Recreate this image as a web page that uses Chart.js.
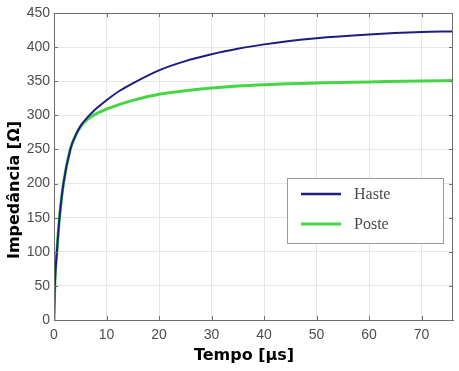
<!DOCTYPE html>
<html>
<head>
<meta charset="utf-8">
<script src="https://cdn.jsdelivr.net/npm/chart.js@4/dist/chart.umd.min.js"></script>
<style>
  html, body { margin: 0; padding: 0; background: #fff; }
  #wrap { width: 459px; height: 371px; }
</style>
</head>
<body>
<div id="wrap"><canvas id="chart" width="459" height="371"></canvas></div>
<script>
// values
const timeUs = [0, 0.15, 0.55, 1.05, 1.8, 3.1, 4.2, 5.2, 6.5, 7.5, 10, 12.5, 15, 20, 25, 30, 35, 40, 50, 60, 70, 76];
const hasteImp = [0, 50, 100, 150, 200, 250, 272, 286, 298, 306, 322, 336, 347, 366, 379.5, 389.5, 397.5, 404, 413, 418.5, 422, 423];
const posteImp = [0, 50, 100, 150, 200, 250, 272, 285, 295, 300, 309, 316, 322, 331, 336, 340, 343, 345, 347.5, 349, 350.5, 351];
const seriesNames = ["Haste", "Poste"];
const xTickValues = [0, 10, 20, 30, 40, 50, 60, 70];
const xTitle = "Tempo [\u03bcs]";
const yTitle = "Impedância [\u03a9]";

const toPoints = (ys) => timeUs.map((t, i) => ({ x: t, y: ys[i] }));

const frameColor = "#6f6f6f";

// box round the plot, inside ticks, axis titles and the legend box
const matlabLook = {
  id: "matlabLook",
  afterDraw(chart) {
    const ctx = chart.ctx;
    const a = chart.chartArea;
    const xs = chart.scales.x, ys = chart.scales.y;
    ctx.save();
    ctx.strokeStyle = frameColor;
    ctx.lineWidth = 1;
    ctx.strokeRect(Math.round(a.left) + 0.5, Math.round(a.top) + 0.5,
      Math.round(a.right - a.left) - 1, Math.round(a.bottom - a.top));
    ctx.beginPath();
    xs.ticks.forEach((t) => {
      const px = Math.round(xs.getPixelForValue(t.value)) + 0.5;
      ctx.moveTo(px, a.bottom); ctx.lineTo(px, a.bottom - 4);
      ctx.moveTo(px, a.top); ctx.lineTo(px, a.top + 4);
    });
    ys.ticks.forEach((t) => {
      const py = Math.round(ys.getPixelForValue(t.value)) + 0.5;
      ctx.moveTo(a.left, py); ctx.lineTo(a.left + 4, py);
      ctx.moveTo(a.right, py); ctx.lineTo(a.right - 4, py);
    });
    ctx.stroke();

    // axis titles
    ctx.fillStyle = "#000";
    ctx.font = "bold 16px 'DejaVu Sans'";
    ctx.textAlign = "center";
    ctx.textBaseline = "middle";
    ctx.fillText(xTitle, 244, 356);
    ctx.translate(15, 190);
    ctx.rotate(-Math.PI / 2);
    ctx.fillText(yTitle, 0, 0);
    ctx.restore();

    // legend
    ctx.save();
    ctx.fillStyle = "#fff";
    ctx.fillRect(287, 178, 156, 65);
    ctx.strokeStyle = "#9a9a9a";
    ctx.lineWidth = 1;
    ctx.strokeRect(287.5, 178.5, 156, 65);
    chart.data.datasets.forEach((ds, i) => {
      const y = 194 + i * 30;
      ctx.strokeStyle = ds.borderColor;
      ctx.lineWidth = i === 0 ? 2.5 : 3;
      ctx.beginPath();
      ctx.moveTo(301, y); ctx.lineTo(341, y);
      ctx.stroke();
      ctx.fillStyle = "#4a4a4a";
      ctx.font = "16px 'Liberation Serif'";
      ctx.textAlign = "left";
      ctx.textBaseline = "middle";
      ctx.fillText(ds.label, 354, y + 1);
    });
    ctx.restore();
  }
};

new Chart(document.getElementById("chart"), {
  type: "scatter",
  data: {
    datasets: [
      {
        label: seriesNames[0],
        data: toPoints(hasteImp),
        showLine: true,
        borderColor: "#1d1d80",
        borderWidth: 2,
        pointRadius: 0,
        cubicInterpolationMode: "monotone"
      },
      {
        label: seriesNames[1],
        data: toPoints(posteImp),
        showLine: true,
        borderColor: "#45d645",
        borderWidth: 3,
        pointRadius: 0,
        cubicInterpolationMode: "monotone"
      }
    ]
  },
  options: {
    responsive: false,
    animation: false,
    layout: { padding: { top: 13, right: 6, left: 0, bottom: 0 } },
    plugins: { legend: { display: false }, tooltip: { enabled: false } },
    scales: {
      x: {
        type: "linear",
        min: 0,
        max: 76,
        afterBuildTicks: (s) => { s.ticks = xTickValues.map((v) => ({ value: v })); },
        afterFit: (s) => { s.height = 51; },
        ticks: {
          color: "#4d4d4d",
          font: { family: "'Liberation Sans'", size: 14 },
          padding: 7
        },
        grid: { color: "#e6e6e6", drawTicks: false },
        border: { color: frameColor }
      },
      y: {
        min: 0,
        max: 450,
        afterFit: (s) => { s.width = 54; },
        ticks: {
          stepSize: 50,
          color: "#4d4d4d",
          font: { family: "'Liberation Sans'", size: 14 },
          padding: 4
        },
        grid: { color: "#e6e6e6", drawTicks: false },
        border: { color: frameColor }
      }
    }
  },
  plugins: [matlabLook]
});
</script>
</body>
</html>
